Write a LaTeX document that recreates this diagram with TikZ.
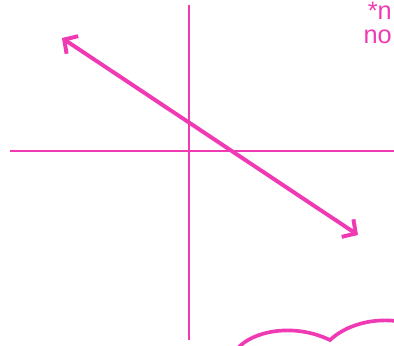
\documentclass[tikz,border=0pt]{standalone}
\usepackage{fontspec}
\setmainfont{Liberation Sans}
\usetikzlibrary{arrows.meta}
\definecolor{marker}{HTML}{F03AB4}

\tikzset{
  axisline/.style={marker, line width=1.6pt},
  penline/.style={marker, line width=2.8pt, line cap=round},
  scribble/.style={marker, font=\fontsize{18}{18}\selectfont, inner sep=0pt}
}

\begin{document}
\begin{tikzpicture}[x=0.025cm, y=-0.025cm]
\useasboundingbox (0,0) rectangle (394,345);
\clip (0,0) rectangle (394,345);

% Axes
\coordinate (ytop) at (189,5);
\coordinate (ybot) at (189,340);
\coordinate (xleft) at (10,151);
\coordinate (xright) at (394,151);
\draw[axisline] (ytop) -- (ybot);
\draw[axisline] (xleft) -- (xright);

% Line with arrows both ways
\coordinate (upleft) at (62,38);
\coordinate (downright) at (358,235);
\draw[penline, {Straight Barb[length=7pt,width=15pt]}-{Straight Barb[length=7pt,width=15pt]}] (upleft) -- (downright);

% Note at the top right
\node[scribble, anchor=north east] (note1) at (392,2) {*n};
\node[scribble, anchor=north east] (note2) at (392,30) {no};

% Cloud at the bottom
\draw[marker, line width=2.6pt] (238,348) .. controls (252,332) and (292,322) .. (330,340)
  .. controls (345,326) and (370,318) .. (396,321);

\end{tikzpicture}
\end{document}
